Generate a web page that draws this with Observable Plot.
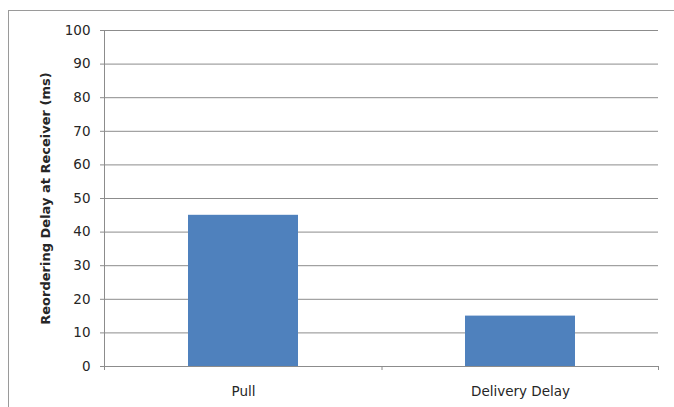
<!DOCTYPE html>
<html>
<head>
<meta charset="utf-8">
<script src="https://cdn.jsdelivr.net/npm/d3@7"></script>
<script src="https://cdn.jsdelivr.net/npm/@observablehq/plot@0.6"></script>
<style>
  html, body { margin: 0; padding: 0; background: #fff; }
  #wrap { position: relative; width: 674px; height: 407px; overflow: hidden; }
  #frame { position: absolute; left: 8px; top: 10px; width: 700px; height: 420px;
           border-left: 1px solid #9a9a9a; border-top: 1px solid #9a9a9a; }
  #chart { position: absolute; left: 0; top: 0; }
</style>
</head>
<body>
<div id="wrap"><div id="frame"></div><div id="chart"></div></div>
<script>
const categories = ["Pull", "Delivery Delay"];
const values = [45, 15];
const yTicks = [0, 10, 20, 30, 40, 50, 60, 70, 80, 90, 100];
const yLabel = "Reordering Delay at Receiver (ms)";

const data = categories.map((c, i) => ({category: c, value: values[i]}));
const gridColor = "#8c8c8c";
const textColor = "#262626";

// left axis line + category boundary ticks (Excel-style), derived from the scales
function axisLines(index, scales, values, dims) {
  const x = scales.x;
  const bw = x.bandwidth ? x.bandwidth() : 0;
  const centers = categories.map(c => x(c) + bw / 2);
  const bounds = [dims.marginLeft];
  for (let i = 1; i < centers.length; i++) bounds.push((centers[i - 1] + centers[i]) / 2);
  bounds.push(dims.width - dims.marginRight);
  const y0 = scales.y(0);
  const yTop = scales.y(100);
  const g = d3.create("svg:g");
  g.append("line").attr("x1", dims.marginLeft + 0.5).attr("x2", dims.marginLeft + 0.5)
    .attr("y1", yTop).attr("y2", y0).attr("stroke", gridColor).attr("stroke-width", 1);
  for (const b of bounds) {
    g.append("line").attr("x1", b + 0.5).attr("x2", b + 0.5).attr("y1", y0).attr("y2", y0 + 4)
      .attr("stroke", gridColor).attr("stroke-width", 1);
  }
  return g.node();
}

const plot = Plot.plot({
  width: 674,
  height: 407,
  marginLeft: 104,
  marginRight: 16,
  marginTop: 30,
  marginBottom: 41,
  style: {fontFamily: "'DejaVu Sans', sans-serif", fontSize: "13px", color: textColor, background: "transparent"},
  x: {domain: categories, paddingInner: 0.603, paddingOuter: 0.3015, label: null},
  y: {domain: [0, 100], label: null},
  marks: [
    Plot.gridY(yTicks, {stroke: gridColor, strokeOpacity: 1, strokeWidth: 1}),
    Plot.barY(data, {x: "category", y: "value", fill: "#4f81bd"}),
    Plot.ruleY([0], {stroke: gridColor, strokeWidth: 1}),
    axisLines,
    Plot.axisY({ticks: yTicks, tickSize: 4, tickPadding: 10, stroke: gridColor, label: null, fill: textColor, fontSize: 13.5}),
    Plot.axisX({tickSize: 0, tickPadding: 20, label: null, fill: textColor, fontSize: 13.5}),
    Plot.text([yLabel], {frameAnchor: "left", dx: -59, rotate: -90, textAnchor: "middle", fontWeight: "bold", fontSize: 13, fill: textColor})
  ]
});
document.getElementById("chart").append(plot);
</script>
</body>
</html>
